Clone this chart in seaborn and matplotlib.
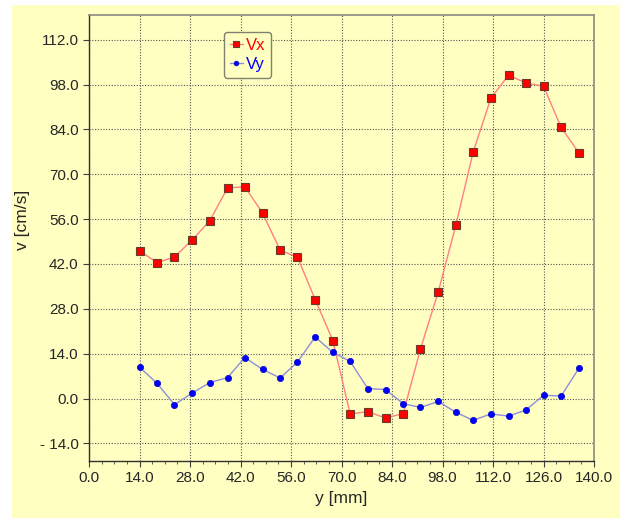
import numpy as np
import pandas as pd
import matplotlib
matplotlib.use("Agg")
import matplotlib.pyplot as plt
from matplotlib.ticker import MultipleLocator, AutoMinorLocator, FuncFormatter
from matplotlib.patches import Rectangle
import seaborn as sns

# measured positions (mm) and velocities (cm/s)
pos_mm = [14.0, 18.9, 23.7, 28.6, 33.5, 38.4, 43.2, 48.1, 53.0, 57.8, 62.7, 67.6, 72.4,
          77.3, 82.2, 87.1, 91.9, 96.8, 101.7, 106.5, 111.4, 116.3, 121.1, 126.0, 130.9, 135.8]
vx = [46.1, 42.4, 44.2, 49.5, 55.5, 65.7, 66.1, 57.9, 46.3, 44.1, 30.9, 18.1, -4.8,
      -4.1, -6.1, -4.7, 15.5, 33.2, 54.1, 76.9, 93.7, 100.9, 98.5, 97.5, 84.6, 76.7]
vy = [9.8, 4.7, -1.9, 1.7, 5.0, 6.5, 12.8, 9.1, 6.4, 11.4, 19.2, 14.4, 11.6,
      3.1, 2.8, -1.6, -2.8, -0.9, -4.3, -6.8, -4.8, -5.5, -3.6, 1.0, 0.8, 9.4]

bg = "#FFFFC2"

sns.set_style("ticks")
plt.rcParams['font.family'] = ['Liberation Sans', 'DejaVu Sans']

fig = plt.figure(figsize=(6.2, 5.18), dpi=100, facecolor=bg)
# white margin strips on the left and top
fig.patches.append(Rectangle((0, 0), 12 / 620, 1, transform=fig.transFigure,
                             facecolor="white", edgecolor="none", zorder=-10))
fig.patches.append(Rectangle((0, 1 - 5 / 518), 1, 5 / 518, transform=fig.transFigure,
                             facecolor="white", edgecolor="none", zorder=-10))

ax = fig.add_axes([89 / 620, 57 / 518, 505 / 620, 446 / 518])
ax.set_facecolor(bg)

sns.lineplot(x=pos_mm, y=vx, ax=ax, color="#FF8080", lw=1.0, marker="s", markersize=6,
             markerfacecolor="#FF0000", markeredgecolor="#6A3A2A", markeredgewidth=0.8,
             label="Vx", zorder=3)
sns.lineplot(x=pos_mm, y=vy, ax=ax, color="#8E8EDC", lw=1.0, marker="o", markersize=4.5,
             markerfacecolor="#0000FF", markeredgecolor="#0000C0", markeredgewidth=0.5,
             label="Vy", zorder=3)

ax.set_xlim(0, 140)
ax.set_ylim(-19.5, 119.7)
ax.xaxis.set_major_locator(MultipleLocator(14))
ax.yaxis.set_major_locator(MultipleLocator(14))
ax.xaxis.set_minor_locator(AutoMinorLocator(4))

def fmt(v, p):
    if v < 0:
        return "- %.1f" % abs(v)
    return "%.1f" % v

ax.xaxis.set_major_formatter(FuncFormatter(fmt))
ax.yaxis.set_major_formatter(FuncFormatter(fmt))

ax.grid(True, which="major", ls=(0, (1, 1.5)), color="#555555", lw=0.8)
ax.tick_params(axis="both", which="major", labelsize=11, length=4, width=0.8, color="#404040")
ax.tick_params(axis="x", which="minor", length=2, width=0.6, color="#404040")
ax.tick_params(axis="y", which="minor", left=False)

for s in ["left", "bottom"]:
    ax.spines[s].set_color("#303030")
    ax.spines[s].set_linewidth(1.0)
for s in ["top", "right"]:
    ax.spines[s].set_visible(True)
    ax.spines[s].set_color("#8A8A80")
    ax.spines[s].set_linewidth(1.2)

ax.set_xlabel("y [mm]", fontsize=12.5, labelpad=4)
ax.set_ylabel("v [cm/s]", fontsize=12.5)
ax.yaxis.set_label_coords(-0.117, 0.54)

leg = ax.legend(loc="upper left", bbox_to_anchor=(0.267, 0.962), borderaxespad=0,
                fontsize=12, frameon=True, fancybox=True, handlelength=0.8, markerscale=0.75,
                handletextpad=0.15, borderpad=0.35, labelspacing=0.25)
leg.get_frame().set_facecolor(bg)
leg.get_frame().set_edgecolor("#808070")
leg.get_frame().set_alpha(1)
for t, c in zip(leg.get_texts(), ["#FF0000", "#0000FF"]):
    t.set_color(c)

fig.savefig("out.png", dpi=100, facecolor=bg)
